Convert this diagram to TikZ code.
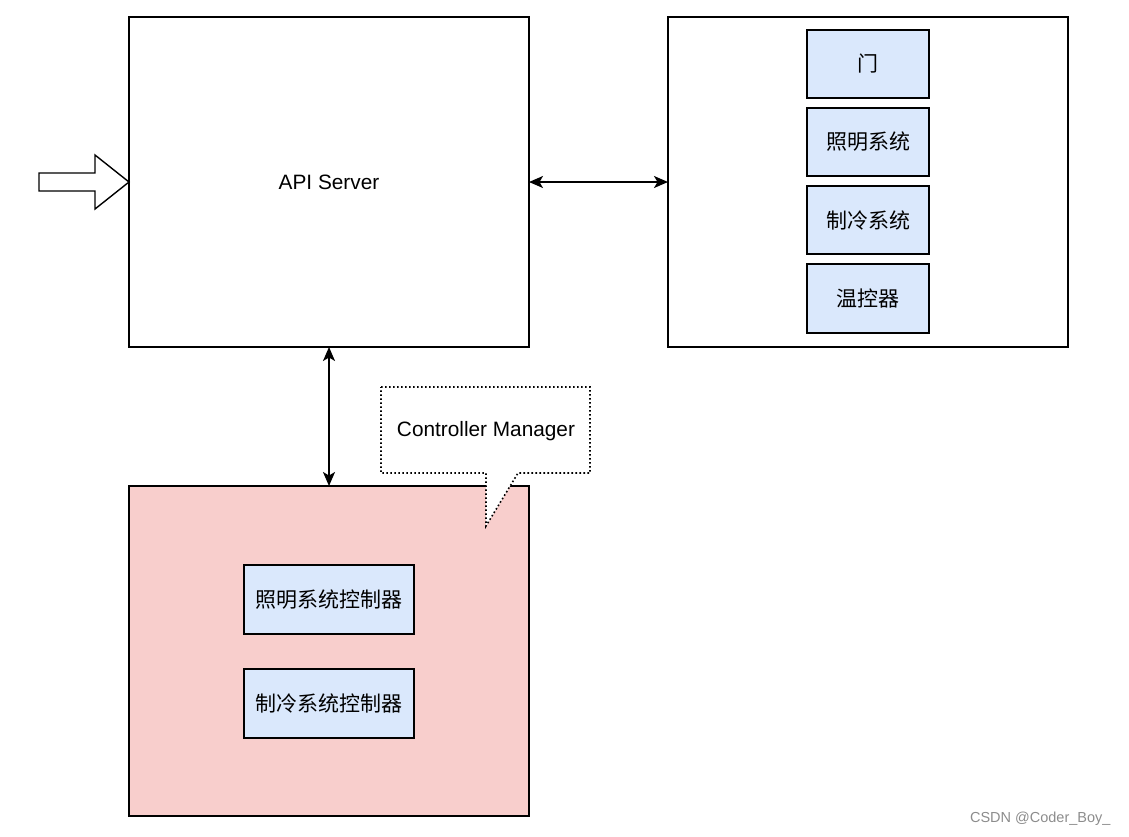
\documentclass[tikz,border=0pt]{standalone}
\usepackage{fontspec}
\setmainfont{Liberation Sans}
\newfontfamily\cjk{Noto Sans CJK SC}
\usetikzlibrary{arrows.meta}
\definecolor{pinkfill}{HTML}{F8CECC}
\definecolor{bluefill}{HTML}{DAE8FC}
\begin{document}
\begin{tikzpicture}[x=1pt,y=-1pt,
  box/.style={draw=black,line width=1.4pt,fill=white},
  item/.style={draw=black,line width=1.4pt,fill=bluefill},
  conn/.style={line width=1.6pt,{Stealth[length=14pt,width=12pt,inset=3.5pt]}-{Stealth[length=14pt,width=12pt,inset=3.5pt]}},
  lbl/.style={font=\fontsize{20.8}{24}\selectfont},
  clbl/.style={font=\fontsize{21}{25}\selectfont\cjk}]
\useasboundingbox (0,0) rectangle (1129,836);
% API server
\draw[box] (129,17) rectangle (529,347);
\node[lbl] (api) at (329,182) {API Server};
\coordinate (apiR) at (529,182);
\coordinate (apiB) at (329,347);
% right box
\draw[box] (668,17) rectangle (1068,347);
\coordinate (devL) at (668,182);
\draw[item] (807,30) rectangle (929,98);
\node[clbl] (door) at (868,64) {门};
\draw[item] (807,108) rectangle (929,176);
\node[clbl] (light) at (868,142) {照明系统};
\draw[item] (807,186) rectangle (929,254);
\node[clbl] (cool) at (868,220) {制冷系统};
\draw[item] (807,264) rectangle (929,333);
\node[clbl] (thermo) at (868,298.5) {温控器};
% controller manager box
\draw[line width=1.4pt,fill=pinkfill] (129,486) rectangle (529,816);
\coordinate (cmT) at (329,486);
\draw[item] (244,565) rectangle (414,634);
\node[clbl] (lc) at (329,599.5) {照明系统控制器};
\draw[item] (244,669) rectangle (414,738);
\node[clbl] (cc) at (329,703.5) {制冷系统控制器};
% callout
\draw[line width=1.6pt,dash pattern=on 1.6pt off 2.4pt,fill=white] (381,387) -- (590,387) -- (590,473) -- (518,473) -- (486,526) -- (486,473) -- (381,473) -- cycle;
\node[lbl] (callout) at (486,431) {Controller Manager};
% block arrow
\draw[line width=1.4pt,fill=white] (39,173) -- (95,173) -- (95,155) -- (129,182) -- (95,209) -- (95,191) -- (39,191) -- cycle;
% connectors
\draw[conn] (apiR) -- (devL);
\draw[conn] (apiB) -- (cmT);
% watermark
\node[font=\fontsize{14.5}{16}\selectfont,text=black!45,anchor=east] (wm) at (1114,819) {CSDN @Coder\_Boy\_};
\end{tikzpicture}
\end{document}
